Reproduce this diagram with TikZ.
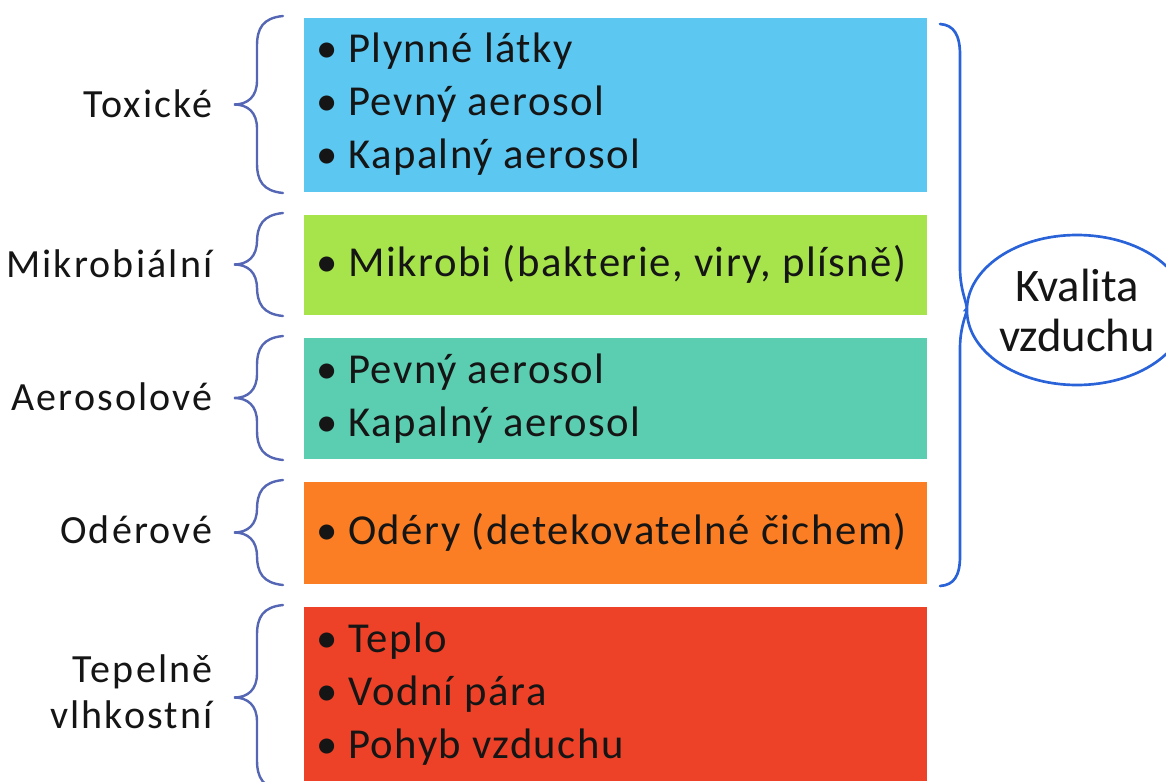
\documentclass[tikz,border=0pt]{standalone}
\usepackage{fontspec}
\setmainfont{Carlito}
\newfontfamily\itemfont[LetterSpace=3.5]{Carlito}
\newfontfamily\labfont[LetterSpace=5.5]{Carlito}
\usetikzlibrary{shapes.geometric}
\definecolor{cBlue}{HTML}{5CC7F1}
\definecolor{cGreen}{HTML}{A7E34B}
\definecolor{cTeal}{HTML}{5BCDB1}
\definecolor{cOrange}{HTML}{FC7E24}
\definecolor{cRed}{HTML}{EE4228}
\definecolor{cBrace}{HTML}{5466B4}
\definecolor{cRBrace}{HTML}{2A63D8}
\definecolor{cText}{HTML}{151515}
\begin{document}
\begin{tikzpicture}[x=0.75pt,y=-0.75pt,
  box/.style={draw=none,rectangle,minimum width=467.25pt,inner sep=0pt},
  item/.style={anchor=base west,inner sep=0pt,text=cText,font=\itemfont\fontsize{32}{36}\selectfont},
  lab/.style={anchor=base east,inner sep=0pt,text=cText,font=\labfont\fontsize{30}{36}\selectfont},
  lbr/.style={draw=cBrace,line width=1.8pt,line cap=round},
  rbr/.style={draw=cRBrace,line width=2pt,line cap=round}]
\useasboundingbox (0,0) rectangle (1166,781);
% boxes
\node[box,fill=cBlue,minimum height=130.5pt] (b1) at (615.5,105) {};
\node[box,fill=cGreen,minimum height=75pt] (b2) at (615.5,265) {};
\node[box,fill=cTeal,minimum height=90.75pt] (b3) at (615.5,398.5) {};
\node[box,fill=cOrange,minimum height=76.5pt] (b4) at (615.5,533) {};
\node[box,fill=cRed,minimum height=130.5pt] (b5) at (615.5,694) {};
% items
\newcommand\bl{\llap{\textbullet\hspace{8pt}}}
\node[item] (i11) at (348,63) {\bl Plynné látky};
\node[item] (i12) at (348,116) {\bl Pevný aerosol};
\node[item] (i13) at (348,169) {\bl Kapalný aerosol};
\node[item] (i21) at (348,276) {\bl Mikrobi (bakterie, viry, plísně)};
\node[item] (i31) at (348,383) {\bl Pevný aerosol};
\node[item] (i32) at (348,436) {\bl Kapalný aerosol};
\node[item] (i41) at (348,544) {\bl Odéry (detekovatelné čichem)};
\node[item] (i51) at (348,652) {\bl Teplo};
\node[item] (i52) at (348,705) {\bl Vodní pára};
\node[item] (i53) at (348,758) {\bl Pohyb vzduchu};
% labels
\node[lab] (l1) at (213,118) {Toxické};
\node[lab] (l2) at (213,277) {Mikrobiální};
\node[lab] (l3) at (213,410) {Aerosolové};
\node[lab] (l4) at (213,543) {Odérové};
\node[lab] (l5a) at (213,682) {Tepelně};
\node[lab] (l5b) at (213,728) {vlhkostní};
% left braces
\foreach \t/\b in {16/193, 213/316, 336/460, 480/585, 605/790}{
  \pgfmathsetmacro\m{(\t+\b)/2}
  \draw[lbr] (283,\t) .. controls (263,\t+2) and (257,\t+12) .. (257,\t+30)
    -- (257,\m-24) .. controls (257,\m-8) and (248,\m) .. (234,\m)
    .. controls (248,\m) and (257,\m+8) .. (257,\m+24)
    -- (257,\b-30) .. controls (257,\b-12) and (263,\b-2) .. (283,\b);
}
% ellipse
\node[ellipse,draw=cRBrace,line width=2pt,minimum width=141pt,minimum height=112.5pt,inner sep=0pt,
  align=center,text=cText,font=\fontsize{35}{37.5}\selectfont] (q) at (1077,310) {Kvalita\\vzduchu};
% right brace
\draw[rbr] (940,24) .. controls (954,25) and (960,35) .. (960,55)
  -- (960,268) .. controls (960,294) and (970,308) .. (q.west)
  .. controls (970,308) and (960,322) .. (960,348)
  -- (960,556) .. controls (960,576) and (954,585) .. (940,586);
\end{tikzpicture}
\end{document}
